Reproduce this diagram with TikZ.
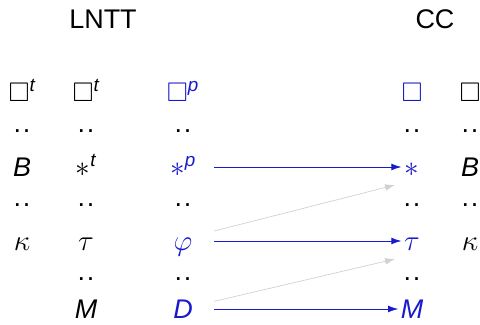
\documentclass[tikz,border=0pt]{standalone}
\usepackage{amsmath,amssymb}
\usepackage{fontspec}
\setmainfont{Liberation Sans}
\usetikzlibrary{arrows.meta}

\begin{document}
\begin{tikzpicture}[x=1cm,y=1cm]
\tikzset{
  sym/.style={anchor=base,inner sep=0pt,font=\fontsize{23}{27}\selectfont},
  pcol/.style={sym,text=ccblue,minimum width=1.86cm},
  ccol/.style={sym,text=ccblue,minimum width=0.48cm},
  mapto/.style={-{Latex[length=3mm,width=2mm]},line width=0.6pt,draw=ccblue,shorten >=2pt},
  faint/.style={-{Latex[length=3mm,width=2mm]},line width=0.6pt,draw=black!18}
}
\definecolor{ccblue}{RGB}{25,25,205}
\newcommand{\twodots}{.\kern1.5pt.}
\useasboundingbox (0,0) rectangle (14.4,9.72);
% titles
\node[sym] (t_lntt) at (3.09,8.85) {LNTT};
\node[sym] (t_cc) at (13.05,8.85) {CC};
% LNTT, first column
\node[sym] (a_box) at (0.66,6.66) {$\Box^{\text{\itshape t}}$};
\node[sym] (a_d1) at (0.66,5.76) {\twodots};
\node[sym] (a_B) at (0.66,4.41) {\textit{B}};
\node[sym] (a_d2) at (0.66,3.54) {\twodots};
\node[sym] (a_k) at (0.66,2.22) {$\kappa$};
% LNTT, second column
\node[sym] (b_box) at (2.58,6.66) {$\Box^{\text{\itshape t}}$};
\node[sym] (b_d1) at (2.58,5.76) {\twodots};
\node[sym] (b_st) at (2.58,4.41) {$\ast^{\text{\itshape t}}$};
\node[sym] (b_d2) at (2.58,3.54) {\twodots};
\node[sym] (b_tau) at (2.58,2.22) {$\tau$};
\node[sym] (b_d3) at (2.58,1.32) {\twodots};
\node[sym] (b_M) at (2.58,0.18) {\textit{M}};
% LNTT, third column
\node[pcol] (p_box) at (5.49,6.66) {$\Box^{\text{\itshape p}}$};
\node[sym] (p_d1) at (5.49,5.76) {\twodots};
\node[pcol] (p_st) at (5.49,4.41) {$\ast^{\text{\itshape p}}$};
\node[sym] (p_d2) at (5.49,3.54) {\twodots};
\node[pcol] (p_phi) at (5.49,2.22) {$\varphi$};
\node[sym] (p_d3) at (5.49,1.32) {\twodots};
\node[pcol] (p_D) at (5.49,0.18) {\textit{D}};
% CC, first column
\node[ccol] (c_box) at (12.36,6.66) {$\Box$};
\node[sym] (c_d1) at (12.36,5.76) {\twodots};
\node[ccol] (c_st) at (12.36,4.41) {$\ast$};
\node[sym] (c_d2) at (12.36,3.54) {\twodots};
\node[ccol] (c_tau) at (12.36,2.22) {$\tau$};
\node[sym] (c_d3) at (12.36,1.32) {\twodots};
\node[ccol] (c_M) at (12.36,0.18) {\textit{M}};
% CC, second column
\node[sym] (d_box) at (14.1,6.66) {$\Box$};
\node[sym] (d_d1) at (14.1,5.76) {\twodots};
\node[sym] (d_B) at (14.1,4.41) {\textit{B}};
\node[sym] (d_d2) at (14.1,3.54) {\twodots};
\node[sym] (d_k) at (14.1,2.22) {$\kappa$};
% free ends of the grey arrows
\coordinate (g_st) at (11.85,4.17);
\coordinate (g_tau) at (11.85,1.95);
\draw[mapto] ([yshift=0.3cm]p_st.base east) -- ([yshift=0.3cm]c_st.base west);
\draw[mapto] ([yshift=0.27cm]p_phi.base east) -- ([yshift=0.27cm]c_tau.base west);
\draw[mapto] ([yshift=0.27cm]p_D.base east) -- ([yshift=0.27cm]c_M.base west);
\draw[faint] ([yshift=0.57cm]p_phi.base east) -- (g_st);
\draw[faint] ([yshift=0.5cm]p_D.base east) -- (g_tau);
\end{tikzpicture}
\end{document}
